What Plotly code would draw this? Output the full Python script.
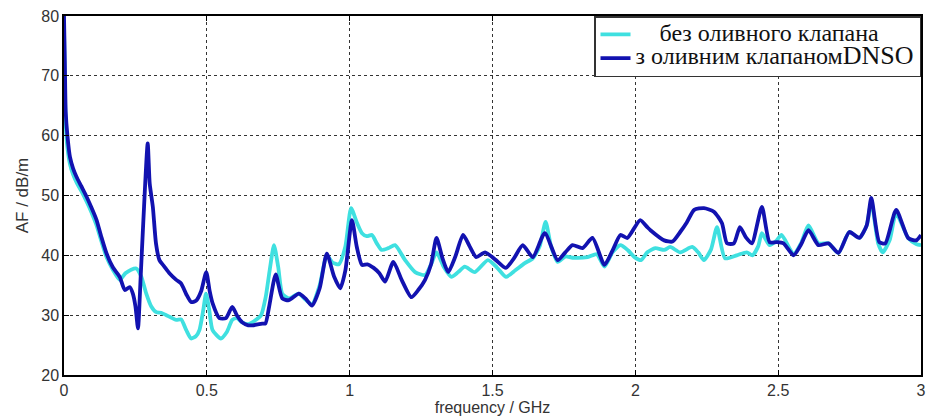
import plotly.graph_objects as go

# ---- data ----
freq_valve = [0, 0.003, 0.006, 0.012, 0.021, 0.032, 0.044, 0.06, 0.079, 0.096, 0.114, 0.13, 0.149, 0.171, 0.195,
              0.213, 0.23, 0.241, 0.25, 0.259, 0.268, 0.278, 0.293, 0.30, 0.311, 0.322, 0.334, 0.35, 0.369, 0.393,
              0.41, 0.428, 0.445, 0.462, 0.48, 0.498, 0.51, 0.52, 0.544, 0.567, 0.589, 0.605, 0.624, 0.645, 0.66,
              0.694, 0.705, 0.718, 0.741, 0.764, 0.787, 0.822, 0.845, 0.868, 0.895, 0.92, 0.945, 0.967, 0.985,
              1.008, 1.025, 1.043, 1.062, 1.084, 1.104, 1.124, 1.153, 1.182, 1.216, 1.24, 1.264, 1.285, 1.304,
              1.325, 1.345, 1.37, 1.397, 1.42, 1.443, 1.474, 1.512, 1.547, 1.575, 1.606, 1.641, 1.683, 1.728,
              1.755, 1.78, 1.815, 1.85, 1.892, 1.92, 1.948, 1.972, 2.017, 2.042, 2.053, 2.101, 2.13, 2.157, 2.18,
              2.206, 2.24, 2.275, 2.303, 2.321, 2.345, 2.366, 2.387, 2.408, 2.443, 2.47, 2.495, 2.519, 2.554,
              2.58, 2.606, 2.641, 2.676, 2.711, 2.749, 2.784, 2.81, 2.826, 2.854, 2.875, 2.913, 2.955, 2.983, 3.0]
af_valve = [80, 72, 64, 60, 56.4, 54.5, 53.1, 51.6, 49.8, 48.0, 45.9, 43.2, 40.3, 38.0, 36.4,
            34.2, 34.7, 33.6, 31.5, 27.8, 36, 46, 58.7, 52, 48.1, 42, 39.2, 38.2, 37.0, 35.9,
            35.3, 33.5, 32.2, 32.4, 34, 37.2, 34, 32.0, 29.5, 29.5, 31.4, 30.0, 28.8, 28.3, 28.3,
            28.6, 28.6, 31.4, 36.8, 32.8, 32.5, 33.6, 32.8, 31.6, 34.5, 40.3, 36.5, 34.5, 37.5,
            45.9, 41.4, 38.4, 38.5, 37.9, 37.0, 35.6, 38.9, 35.9, 33.0, 34.2, 35.9, 38.5, 42.9,
            39.5, 37.2, 39.8, 43.4, 41.5, 39.7, 40.5, 39.2, 37.9, 39.5, 41.7, 39.7, 43.7, 39.2,
            40.5, 41.7, 41.2, 42.9, 38.4, 40.8, 43.4, 42.9, 45.9, 44.7, 44.2, 42.5, 42.3, 43.9, 45.5,
            47.6, 47.9, 47.3, 45.4, 42.0, 42.0, 44.7, 43.0, 42.0, 48.1, 42.2, 42.2, 42.0, 40.0,
            41.8, 44.2, 41.7, 42.0, 40.4, 43.9, 42.9, 45.0, 49.6, 42.2, 42.0, 47.6, 42.9, 42.5, 43.4]

freq_plain = [0, 0.003, 0.006, 0.012, 0.021, 0.032, 0.044, 0.06, 0.079, 0.096, 0.114, 0.13, 0.149, 0.171, 0.195,
              0.215, 0.235, 0.253, 0.27, 0.288, 0.305, 0.323, 0.34, 0.358, 0.375, 0.393, 0.41, 0.428, 0.445,
              0.462, 0.474, 0.488, 0.497, 0.508, 0.52, 0.549, 0.57, 0.589, 0.605, 0.624, 0.645, 0.671, 0.69,
              0.706, 0.72, 0.735, 0.75, 0.764, 0.787, 0.822, 0.845, 0.868, 0.895, 0.92, 0.94, 0.962, 0.985,
              1.005, 1.025, 1.043, 1.06, 1.078, 1.095, 1.112, 1.135, 1.159, 1.194, 1.229, 1.264, 1.285, 1.304,
              1.33, 1.356, 1.38, 1.403, 1.438, 1.484, 1.515, 1.547, 1.58, 1.613, 1.641, 1.665, 1.686, 1.705,
              1.728, 1.755, 1.78, 1.833, 1.865, 1.892, 1.92, 1.948, 1.975, 1.997, 2.02, 2.042, 2.07, 2.101,
              2.122, 2.157, 2.199, 2.22, 2.24, 2.265, 2.286, 2.314, 2.355, 2.39, 2.41, 2.43, 2.443, 2.47,
              2.495, 2.512, 2.554, 2.58, 2.606, 2.641, 2.676, 2.711, 2.749, 2.784, 2.81, 2.826, 2.85, 2.866,
              2.89, 2.913, 2.955, 2.983, 3.0]
af_plain = [78, 68, 62, 58, 55.2, 53.5, 52.2, 50.8, 49.0, 47.2, 45.0, 42.5, 39.7, 37.6, 35.9,
            37.0, 37.6, 37.8, 36.5, 33.6, 31.5, 30.5, 30.4, 30.0, 29.6, 29.2, 29.3, 27.5, 26.1,
            26.5, 27.5, 31, 33.6, 31, 27.5, 26.1, 27.2, 29.2, 29.5, 28.8, 28.5, 29.2, 30.0,
            33.0, 37.5, 41.7, 38.0, 33.6, 32.8, 33.6, 32.6, 31.8, 35.0, 40.0, 38.8, 38.5, 41.5,
            47.9, 45.5, 43.7, 43.2, 43.4, 42.0, 40.9, 41.2, 41.7, 39.2, 37.2, 36.7, 38.5, 40.5,
            38.0, 36.4, 37.2, 38.1, 37.2, 39.2, 38.0, 36.4, 37.5, 38.7, 39.5, 41.5, 45.6, 41.5,
            38.9, 39.8, 39.6, 39.7, 40.2, 38.1, 40.5, 41.7, 40.8, 39.7, 39.2, 40.5, 41.2, 40.9,
            41.4, 40.5, 41.4, 40.5, 39.2, 41.0, 44.7, 39.5, 40.0, 40.5, 40.0, 41.5, 43.7, 41.7,
            42.5, 43.4, 40.2, 42.0, 45.0, 42.0, 42.0, 40.4, 43.9, 42.9, 45.0, 49.0, 42.0, 40.5,
            42.5, 47.0, 42.9, 41.9, 41.7]

assert len(freq_valve) == len(af_valve), (len(freq_valve), len(af_valve))
assert len(freq_plain) == len(af_plain), (len(freq_plain), len(af_plain))

x_ticks = [0, 0.5, 1, 1.5, 2, 2.5, 3]
x_tick_labels = ["0", "0.5", "1", "1.5", "2", "2.5", "3"]
y_ticks = [20, 30, 40, 50, 60, 70, 80]

label_style = "font-size:24px"
name_plain = f"<span style='{label_style}'>    без оливного клапана</span>"
name_valve = (f"<span style='{label_style}'>з оливним клапаном</span>"
              "<span style='font-size:26px'>DNSO</span>")

fig = go.Figure()
fig.add_trace(go.Scatter(x=freq_plain, y=af_plain, mode="lines", name=name_plain,
                         line=dict(color="#3fe0e0", width=3.8, shape="spline", smoothing=0.6)))
fig.add_trace(go.Scatter(x=freq_valve, y=af_valve, mode="lines", name=name_valve,
                         line=dict(color="#1212b0", width=3.8, shape="spline", smoothing=0.6)))

axis_common = dict(showline=True, linecolor="black", linewidth=1.5, mirror="ticks",
                   ticks="inside", ticklen=5, tickcolor="black",
                   showgrid=True, gridcolor="#333", gridwidth=1.3, griddash="dot",
                   zeroline=False,
                   tickfont=dict(family="Liberation Sans", size=16, color="#333"))

fig.update_layout(
    width=931, height=418,
    margin=dict(l=64, r=5, t=16, b=43),
    paper_bgcolor="white", plot_bgcolor="white",
    xaxis=dict(range=[0, 3], tickvals=x_ticks, ticktext=x_tick_labels,
               title=dict(text="frequency / GHz", standoff=3,
                          font=dict(family="Liberation Sans", size=16, color="#333")),
               **axis_common),
    yaxis=dict(range=[20, 80], tickvals=y_ticks,
               title=dict(text="AF / dB/m", standoff=8,
                          font=dict(family="Liberation Sans", size=17, color="#333")),
               **axis_common),
    legend=dict(x=1, xanchor="right", y=1, yanchor="top",
                bgcolor="white", bordercolor="#333", borderwidth=1.5,
                font=dict(family="Liberation Serif", size=16, color="#111"),
                tracegroupgap=0, itemwidth=30),
    showlegend=True,
)

fig.write_html("out.html")
